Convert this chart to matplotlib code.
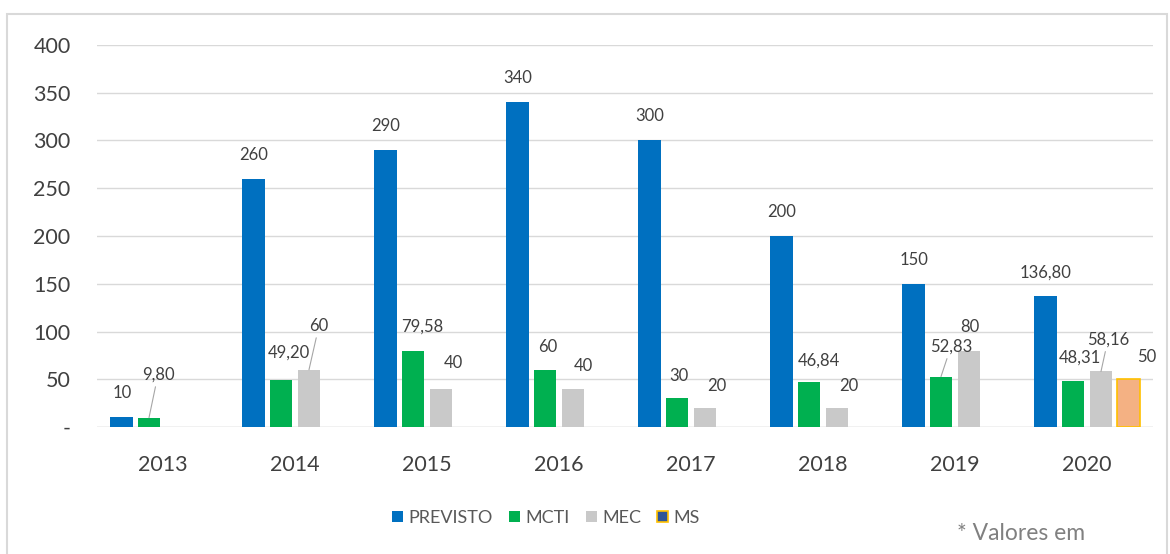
import numpy as np
import matplotlib.pyplot as plt
from matplotlib.patches import Patch, Rectangle

# Data (values in the chart)
years = ['2013', '2014', '2015', '2016', '2017', '2018', '2019', '2020']
previsto = [10, 260, 290, 340, 300, 200, 150, 136.80]
mcti = [9.80, 49.20, 79.58, 60, 30, 46.84, 52.83, 48.31]
mec = [np.nan, 60, 40, 40, 20, 20, 80, 58.16]
ms = [np.nan, np.nan, np.nan, np.nan, np.nan, np.nan, np.nan, 50]

series_names = ['PREVISTO', 'MCTI', 'MEC', 'MS']

# Label placement (offset in pixels from top of bar, and leader line flag)
label_offsets = {
    'PREVISTO': [(1, 24)] * 8,
    'MCTI': [(9, 43), (8, 27), (9, 24), (3, 23), (2, 22), (10, 22), (10, 30), (7, 23)],
    'MEC': [None, (10, 44), (12, 26), (10, 23), (12, 22), (12, 22), (1, 24), (7, 32)],
    'MS': [None] * 7 + [(18, 22)],
}
leaders = {('MCTI', 0), ('MEC', 1), ('MCTI', 6), ('MEC', 7)}

colors = {'PREVISTO': '#0070C0', 'MCTI': '#00B050', 'MEC': '#C9C9C9', 'MS': '#F4B183'}
text_color = '#404040'
font = 'Lato'


def fmt(v):
    if float(v).is_integer():
        return '%d' % v
    return ('%.2f' % v).replace('.', ',')


fig = plt.figure(figsize=(11.7, 5.54), dpi=100)
W, H = 1170, 554
ax = fig.add_axes([97 / W, 1 - 427 / H, (1153 - 97) / W, (427 - 45) / H])

# chart frame
fig.patches.append(Rectangle((7 / W, -0.05), (1167 - 7) / W, 1 - 14 / H + 0.05,
                             transform=fig.transFigure, fill=False,
                             edgecolor='#D9D9D9', lw=1.5))

x = np.arange(len(years))
width = 0.174
step = 0.212
data = {'PREVISTO': previsto, 'MCTI': mcti, 'MEC': mec, 'MS': ms}

for k, name in enumerate(series_names):
    vals = data[name]
    xs = x + (k - 1.5) * step
    if name == 'MS':
        ax.bar(xs, vals, width, color=colors[name], edgecolor='#FFC000', linewidth=1.2, zorder=3)
    else:
        ax.bar(xs, vals, width, color=colors[name], zorder=3)
    for i, v in enumerate(vals):
        if np.isnan(v):
            continue
        dx, dy = label_offsets[name][i]
        arrow = None
        if (name, i) in leaders:
            arrow = dict(arrowstyle='-', color='#A6A6A6', lw=0.8, shrinkA=1, shrinkB=0)
        ax.annotate(fmt(v), xy=(xs[i], v), xytext=(dx, dy), textcoords='offset pixels',
                    ha='center', va='center', fontsize=12, color=text_color,
                    family=font, arrowprops=arrow, zorder=4)

ax.set_xlim(-0.5, len(years) - 0.5)
ax.set_ylim(0, 400)
ax.set_yticks(range(0, 401, 50))
ax.set_yticklabels(['-'] + [str(v) for v in range(50, 401, 50)])
ax.set_xticks(x)
ax.set_xticklabels(years)
ax.grid(axis='y', color='#D9D9D9', lw=1, zorder=0)
ax.tick_params(axis='both', length=0, labelsize=15.5, labelcolor=text_color)
ax.tick_params(axis='y', pad=19)
ax.tick_params(axis='x', pad=20)
for lab in ax.get_xticklabels() + ax.get_yticklabels():
    lab.set_family(font)
for s in ax.spines.values():
    s.set_visible(False)
ax.axhline(0, color='#D9D9D9', lw=1, zorder=1)

handles = [Patch(facecolor='#0070C0'), Patch(facecolor='#00B050'),
           Patch(facecolor='#C9C9C9'), Patch(facecolor='#2F5597', edgecolor='#FFC000', lw=1.2)]
fig.legend(handles, series_names, loc='center left', bbox_to_anchor=(376 / W, 1 - 518 / H),
           ncol=4, frameon=False, handlelength=0.6, handleheight=0.6, handletextpad=0.3,
           columnspacing=0.9, prop={'family': font, 'size': 13}, labelcolor='#595959')

fig.text(957 / W, 1 - 533 / H, '* Valores em', fontsize=16.5, color='#808080',
         family=font, va='center', ha='left')

plt.savefig('out.png', dpi=100)
